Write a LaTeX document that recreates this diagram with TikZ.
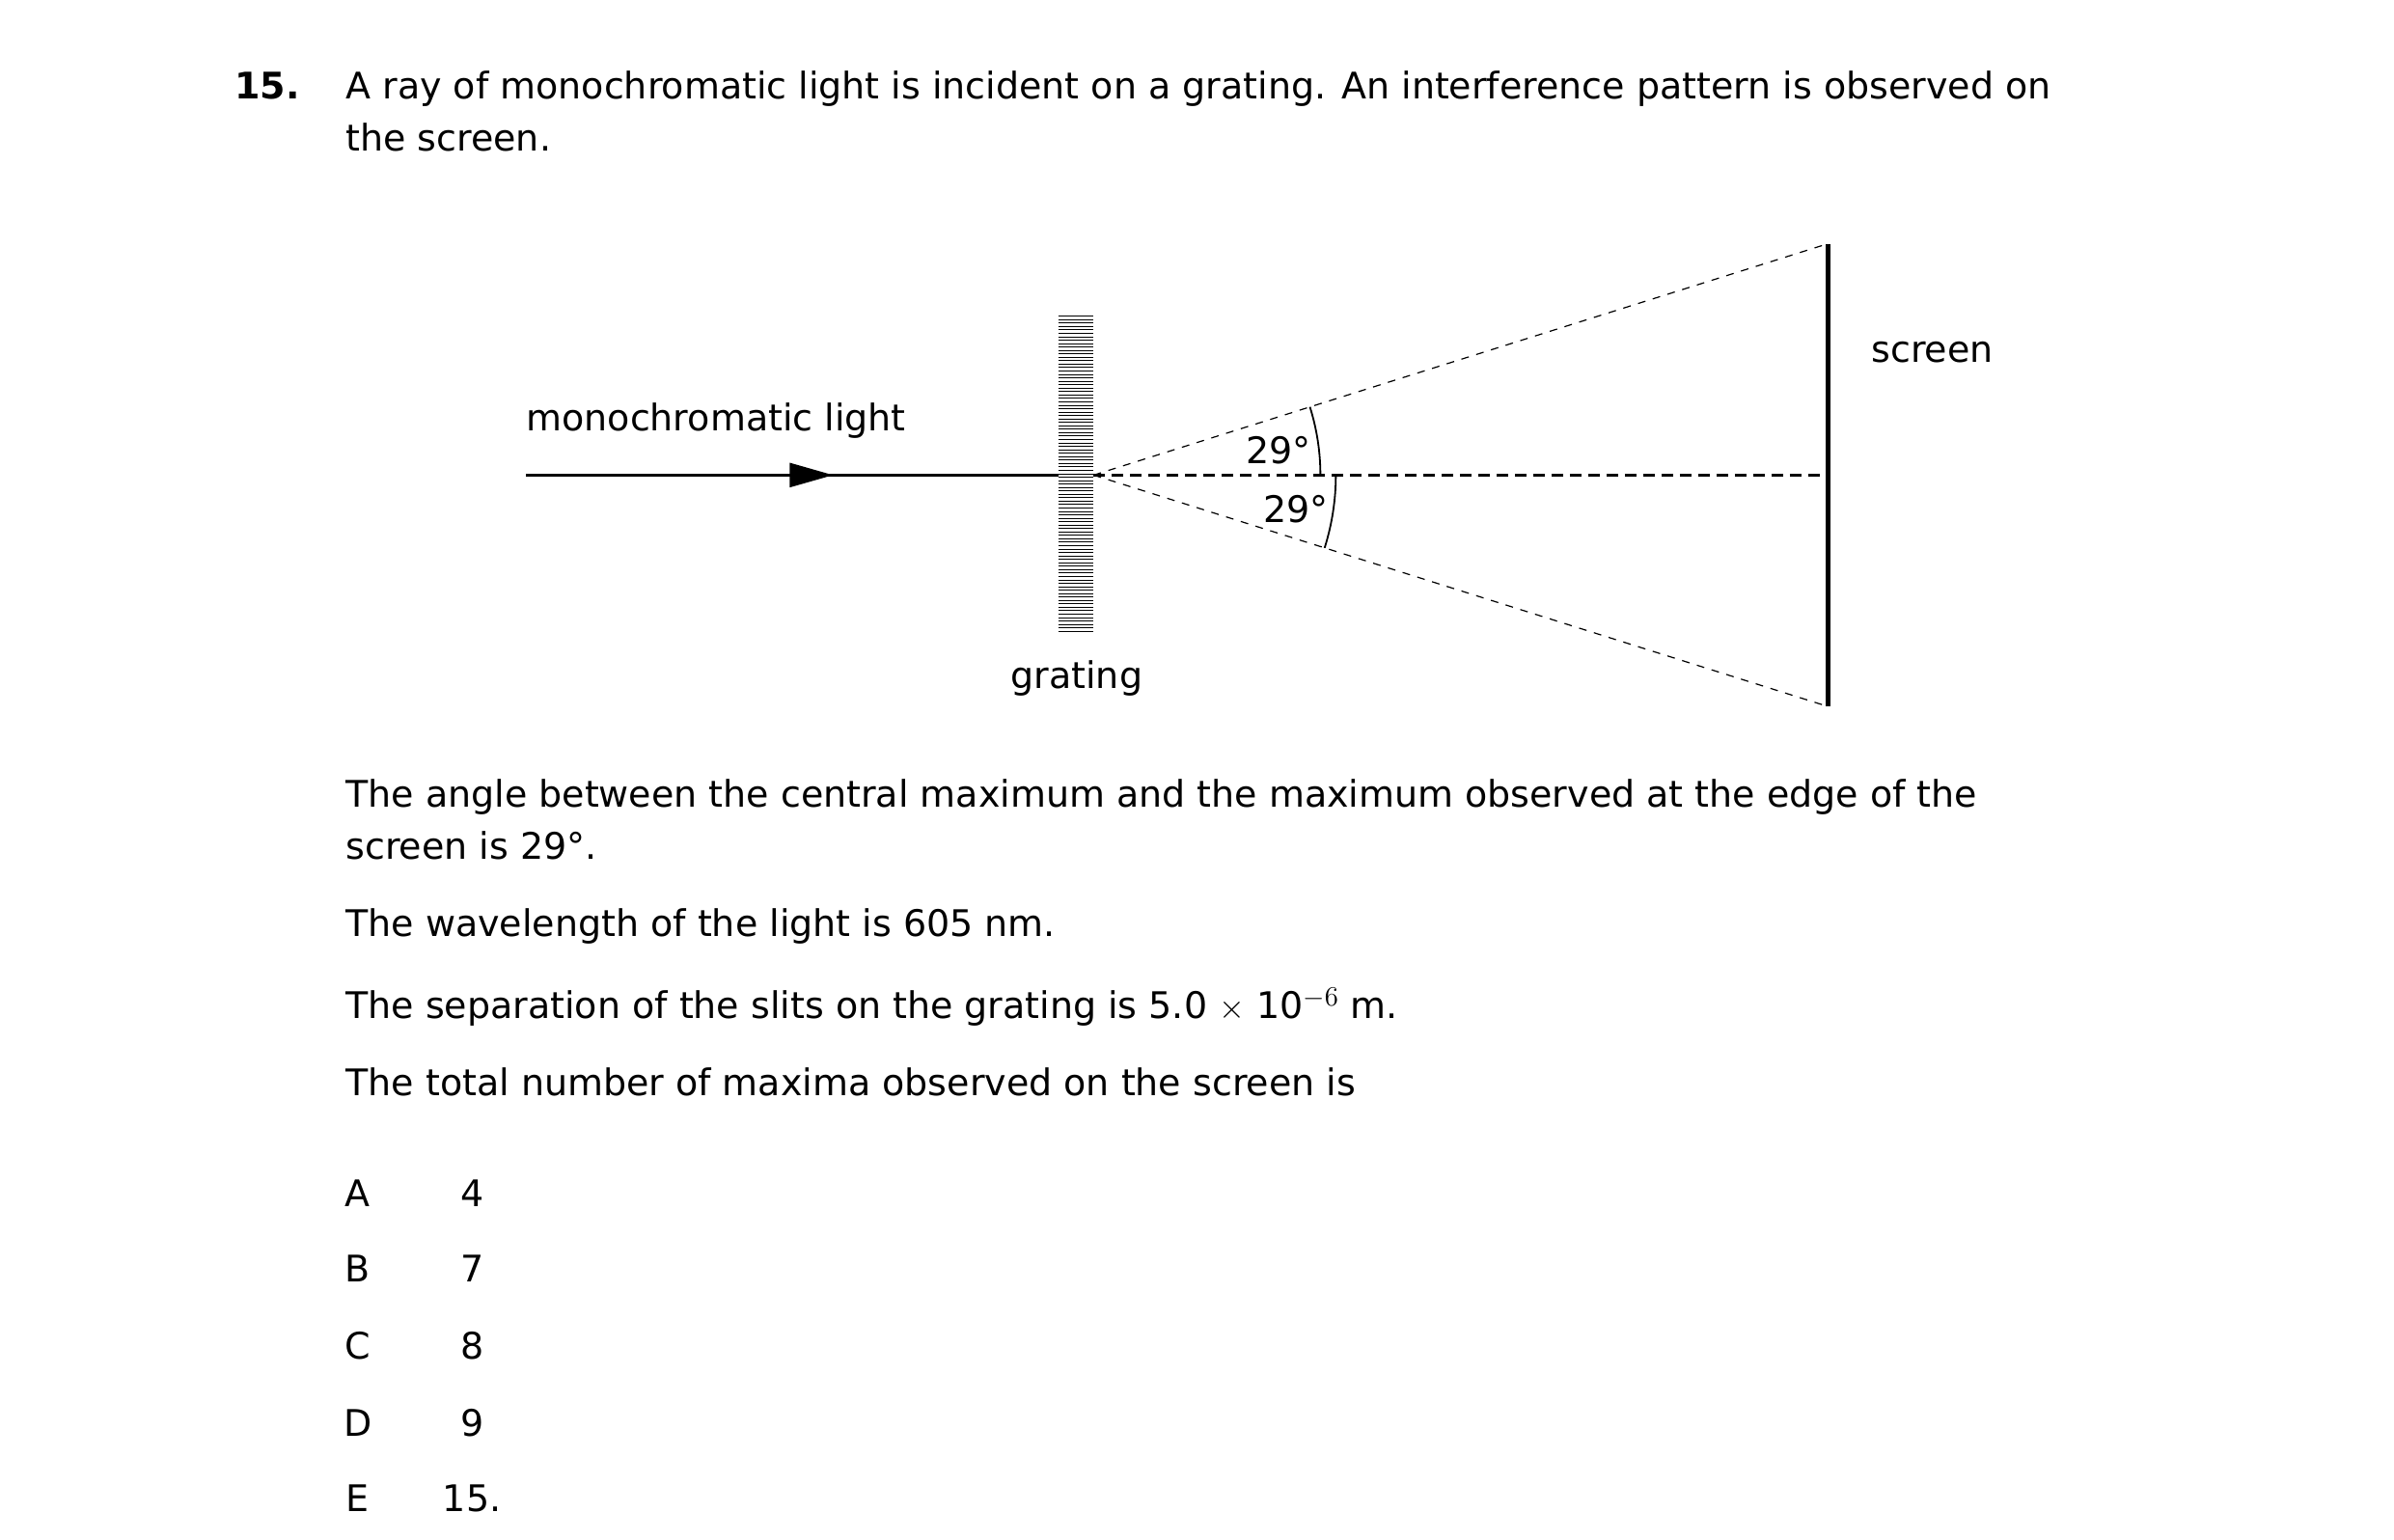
\documentclass[tikz,border=0pt]{standalone}
\usepackage{fontspec}
\setmainfont{DejaVu Sans}
\begin{document}
\begin{tikzpicture}[x=0.8pt,y=-0.8pt,
  txt/.style={inner sep=0pt,font=\fontsize{19}{23}\selectfont,anchor=base west},
  lbl/.style={inner sep=0pt,font=\fontsize{19}{23}\selectfont},
  thin dash/.style={line width=0.6pt,dash pattern=on 4pt off 4pt},
  thick dash/.style={line width=1.8pt,dash pattern=on 6pt off 3.5pt}]
\useasboundingbox (0,0) rectangle (1552,998);
% question text
\node[txt] (n15) at (152,64) {\bfseries 15.};
\node[txt] (q1) at (224,64) {A ray of monochromatic light is incident on a grating. An interference pattern is observed on};
\node[txt] (q2) at (224,98) {the screen.};
% grating
\foreach \i in {0,...,92} {\draw[line width=0.45pt] (686,{205+\i*2.22}) -- (709,{205+\i*2.22});}
\coordinate (g) at (709,308);
\coordinate (src) at (341,308);
\coordinate (gl) at (686,308);
\coordinate (st) at (1185,158);
\coordinate (sb) at (1185,458);
\coordinate (sc) at (1185,308);
\coordinate (ar1) at (856,308);
\coordinate (ar2) at (866,308);
% screen
\draw[line width=2.6pt] (st) -- (sb);
% incident ray
\draw[line width=1.8pt] (src) -- (gl);
\fill (512,300) -- (540,308) -- (512,316) -- cycle;
% dashed lines
\draw[thick dash] (g) -- (sc);
\draw[thin dash] (g) -- (st);
\draw[thin dash] (g) -- (sb);
% arcs
\draw[line width=0.9pt] (ar1) arc[start angle=0,end angle=17.5,radius=117.6pt];
\draw[line width=0.9pt] (ar2) arc[start angle=0,end angle=-17.5,radius=125.6pt];
\node[lbl] (a1) at (829,292) {29°};
\node[lbl] (a2) at (840,330) {29°};
% labels
\node[txt] (ml) at (341,279) {monochromatic light};
\node[lbl] (gr) at (698,440) {grating};
\node[txt] (scr) at (1213,235) {screen};
% paragraph
\node[txt] (p1) at (224,523) {The angle between the central maximum and the maximum observed at the edge of the};
\node[txt] (p2) at (224,557) {screen is 29°.};
\node[txt] (p3) at (224,607) {The wavelength of the light is 605 nm.};
\node[txt] (p4) at (224,660) {The separation of the slits on the grating is 5.0 $\times$ 10$^{-6}$ m.};
\node[txt] (p5) at (224,710) {The total number of maxima observed on the screen is};
% options
\foreach \l/\v/\y in {A/4/782,B/7/831,C/8/881,D/9/931,E/15./980} {
  \node[lbl,anchor=base] at (232,\y) {\l};
  \node[lbl,anchor=base] at (306,\y) {\v};
}
\end{tikzpicture}
\end{document}
